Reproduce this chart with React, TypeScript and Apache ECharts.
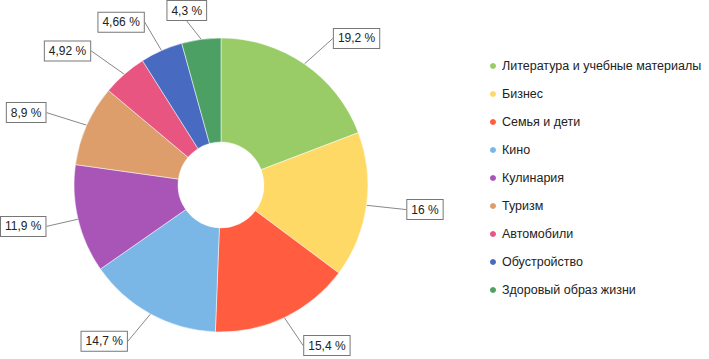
import React, { useEffect, useRef } from "react";
import * as echarts from "echarts";

const categories = [
  "Литература и учебные материалы",
  "Бизнес",
  "Семья и дети",
  "Кино",
  "Кулинария",
  "Туризм",
  "Автомобили",
  "Обустройство",
  "Здоровый образ жизни",
];
const values = [19.2, 16, 15.4, 14.7, 11.9, 8.9, 4.92, 4.66, 4.3];
const colors = [
  "#99CC66",
  "#FFD966",
  "#FF5C40",
  "#7AB6E6",
  "#A855B7",
  "#DD9E6B",
  "#E95581",
  "#486AC0",
  "#4DA064",
];

const W = 709;
const H = 359;
const CX = 221;
const CY = 185;

export default function App() {
  const ref = useRef<HTMLDivElement>(null);
  useEffect(() => {
    if (!ref.current) return;
    const chart = echarts.init(ref.current, undefined, { renderer: "svg" });
    const total = values.reduce((a, b) => a + b, 0);
    const mids: number[] = [];
    let cum = 0;
    values.forEach((v) => {
      mids.push((2 * Math.PI * (cum + v / 2)) / total);
      cum += v;
    });
    const font = "'Liberation Sans', Arial, sans-serif";
    chart.setOption({
      animation: false,
      color: colors,
      legend: {
        orient: "vertical",
        left: 483,
        top: 54,
        icon: "circle",
        itemWidth: 8,
        itemHeight: 8,
        itemGap: 14,
        textStyle: { fontSize: 12.5, lineHeight: 14, color: "#222", fontFamily: font },
        data: categories,
      },
      series: [
        {
          type: "pie",
          center: [CX, CY],
          radius: [43, 147],
          startAngle: 90,
          clockwise: true,
          avoidLabelOverlap: false,
          itemStyle: { borderColor: "#fff", borderWidth: 0.5 },
          label: {
            show: true,
            position: "outside",
            formatter: (p: any) => String(p.value).replace(".", ",") + " %",
            backgroundColor: "#fff",
            borderColor: "#777",
            borderWidth: 1,
            padding: [4, 4, 3, 4],
            color: "#222",
            fontSize: 12,
            fontFamily: font,
          },
          labelLine: {
            show: true,
            length: 10,
            length2: 0,
            lineStyle: { color: "#888", width: 1 },
          },
          labelLayout: (params: any) => {
            const t = mids[params.dataIndex];
            const s = Math.sin(t);
            const c = Math.cos(t);
            const rect = params.labelRect;
            let x = CX + s * (205 + 50 * c * c);
            let y = CY - c * 178;
            const hh = rect.height / 2;
            const hw = rect.width / 2;
            y = Math.max(hh, Math.min(H - hh, y));
            x = Math.max(hw, Math.min(W - hw, x));
            return { x, y, align: "center", verticalAlign: "middle" };
          },
          data: categories.map((name, i) => ({ name, value: values[i] })),
        },
      ],
    });
    return () => chart.dispose();
  }, []);
  return (
    <div
      ref={ref}
      style={{ position: "fixed", left: 0, top: 0, width: W, height: H, background: "#fff" }}
    />
  );
}
